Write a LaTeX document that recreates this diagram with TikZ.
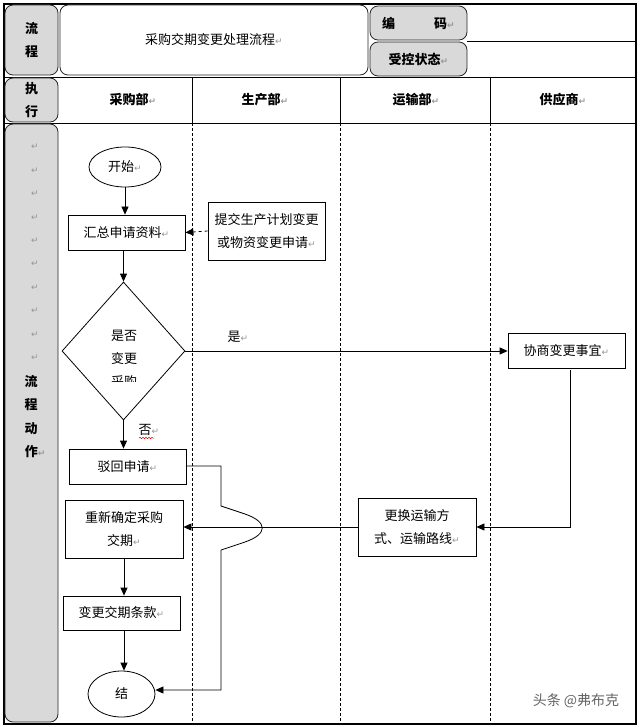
\documentclass[tikz,border=0pt]{standalone}
\usepackage{fontspec}
\setmainfont{Noto Sans CJK SC}
\newfontfamily\djv{DejaVu Sans}
\usetikzlibrary{arrows.meta,shapes.geometric,decorations.pathmorphing}
\definecolor{boxgray}{RGB}{217,217,217}
\definecolor{retgray}{RGB}{150,150,150}
\definecolor{wmgray}{RGB}{100,100,100}
\newcommand\retmark{{\djv\fontsize{9}{9}\selectfont\color{retgray}↵}}
\begin{document}
\begin{tikzpicture}[x=1pt,y=-1pt,
  font=\fontsize{13}{23}\selectfont,
  line width=0.8pt,
  graybox/.style={draw=black!85, fill=boxgray, rounded corners=8pt, line width=0.8pt, inner sep=0pt, align=center},
  whitebox/.style={draw=black!85, fill=white, rounded corners=8pt, line width=0.8pt, inner sep=0pt, align=center},
  proc/.style={draw, rectangle, inner sep=0pt, align=center},
  term/.style={draw, ellipse, inner sep=0pt, align=center},
  arr/.style={-{Triangle[length=8pt,width=7pt]}},
  hdr/.style={font=\fontsize{13}{23}\selectfont\bfseries},
  lbl/.style={inner sep=0pt}
]
\useasboundingbox (0,0) rectangle (640,727);
% frame and table rules
\draw (4,77) -- (636,77);
\draw (4,123) -- (636,123);
\draw (467,41) -- (636,41);
\foreach \xx in {192,340,490} {
  \draw (\xx,77) -- (\xx,123);
  \draw[dash pattern=on 3pt off 2pt] (\xx,123) -- (\xx,724);
}
\draw[line width=1.6pt] (4,4) rectangle (636,724);
% header cells
\node[graybox, hdr, minimum width=53, minimum height=70] (hflow) at (31.5,40) {流\\程};
\node[whitebox, minimum width=308, minimum height=70] (htitle) at (214,40) {采购交期变更处理流程\retmark};
\node[graybox, hdr, minimum width=97, minimum height=34] (hcode) at (418.5,23) {编\hspace{3em}码\retmark};
\node[graybox, hdr, minimum width=97, minimum height=34] (hstat) at (418.5,59) {受控状态\retmark};
\node[graybox, hdr, minimum width=53, minimum height=44] (hexec) at (31.5,100) {执\\行};
\node[graybox, minimum width=53, minimum height=598] (hbody) at (31.5,423) {};
\node[hdr, lbl] (c1) at (133,100) {采购部\retmark};
\node[hdr, lbl] (c2) at (265,100) {生产部\retmark};
\node[hdr, lbl] (c3) at (416,100) {运输部\retmark};
\node[hdr, lbl] (c4) at (563,100) {供应商\retmark};
% left column marks
\foreach \i in {0,...,9} {
  \node[lbl] (rm\i) at (35,{147+23.4*\i}) {\retmark};
}
\node[hdr, lbl] (v1) at (31,381) {流};
\node[hdr, lbl] (v2) at (31,405) {程};
\node[hdr, lbl] (v3) at (31,429) {动};
\node[hdr, lbl, anchor=west] (v4) at (24.5,452) {作\retmark};
% flow nodes
\node[term, minimum width=72, minimum height=40] (start) at (125,167) {开始\retmark};
\node[proc, minimum width=117, minimum height=35] (collect) at (126.5,232.5) {汇总申请资料\retmark};
\node[proc, minimum width=117, minimum height=58] (submit) at (266.5,231) {提交生产计划变更\\或物资变更申请\retmark};
\node[draw, diamond, inner sep=0pt, minimum width=123, minimum height=138] (dia) at (123.5,351) {};
\begin{scope}
  \clip (62,320) rectangle (186,381);
  \node[lbl, align=center] (diatext) at (124,359) {是否\\变更\\采购};
\end{scope}
\node[lbl] (yes) at (238,337) {是\retmark};
\node[proc, minimum width=117, minimum height=35] (nego) at (566.5,351) {协商变更事宜\retmark};
\node[proc, minimum width=118, minimum height=58] (change) at (417,527) {更换运输方\\式、运输路线\retmark};
\node[lbl] (no) at (149,430) {否\retmark};
\node[proc, minimum width=117, minimum height=35] (reject) at (127.5,466.5) {驳回申请\retmark};
\node[proc, minimum width=118, minimum height=58] (redo) at (124,529) {重新确定采购\\交期\retmark};
\node[proc, minimum width=117, minimum height=34] (clause) at (121.5,613) {变更交期条款\retmark};
\node[term, minimum width=67, minimum height=46] (endn) at (121.5,694) {结};
% red spell-check squiggle under 否
\coordinate (sq1) at (139,438);
\coordinate (sq2) at (154,438);
\draw[red, line width=0.5pt, decorate, decoration={snake, amplitude=0.8pt, segment length=3pt}] (sq1) -- (sq2);
% connectors
\draw[arr] (start.south -| collect.north) ++(-1.5,0) coordinate (a1) -- (a1 |- collect.north);
\draw[arr, dashed] (submit.west) -- (collect.east);
\draw[arr] (collect.south -| dia.north) -- (dia.north);
\draw[arr] (dia.east) -- (nego.west);
\draw[arr] (dia.south) -- (dia.south |- reject.north);
\coordinate (nc) at (570,370);
\draw[arr] (nc) |- (change.east);
\draw[arr] (change.west) -- (change.west -| redo.east);
\coordinate (rj1) at (221,466);
\coordinate (rj2) at (221,506);
\coordinate (rj3) at (221,550);
\coordinate (rj4) at (221,690);
\draw[arr] (reject.east |- rj1) -- (rj1) -- (rj2) -- (245,514) .. controls (268,522) and (268,534) .. (245,542) -- (rj3) -- (rj4) -- (rj4 -| endn.east);
\draw[arr] (redo.south -| clause.north) ++(2.5,0) coordinate (a2) -- (a2 |- clause.north);
\draw[arr] (clause.south) ++(2.5,0) coordinate (a3) -- (a3 |- endn.north);
% watermark
\node[lbl, text=wmgray, font=\fontsize{14}{16}\selectfont] (wm) at (576,701) {头条 @弗布克};
\end{tikzpicture}
\end{document}
